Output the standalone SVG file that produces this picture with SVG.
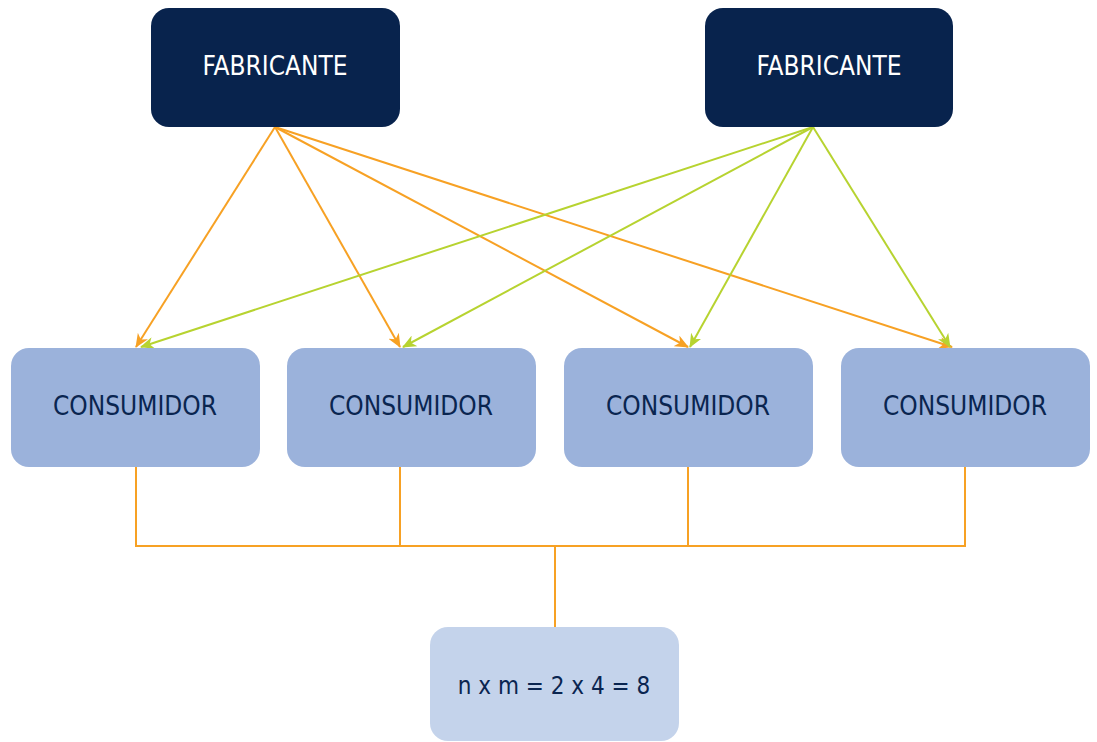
<svg xmlns="http://www.w3.org/2000/svg" width="1097" height="742" viewBox="0 0 1097 742">
<style>
.fab{fill:#08234D}
.con{fill:#9BB2DB}
.res{fill:#C4D3EB}
.t{font-family:"DejaVu Sans Condensed","DejaVu Sans",sans-serif;font-stretch:condensed;font-size:26px;text-anchor:middle;dominant-baseline:central}
.tw{fill:#FFFFFF}
.td{fill:#0A2550}
.o{stroke:#F7A124;stroke-width:2;fill:none}
.g{stroke:#B7D330;stroke-width:2;fill:none}
</style>
<defs>
<marker id="ao" viewBox="0 0 14 12" refX="13" refY="6" markerWidth="14" markerHeight="12" markerUnits="userSpaceOnUse" orient="auto">
<path d="M0,0 L14,6 L0,12 L4,6 Z" fill="#F7A124"/>
</marker>
<marker id="ag" viewBox="0 0 14 12" refX="13" refY="6" markerWidth="14" markerHeight="12" markerUnits="userSpaceOnUse" orient="auto">
<path d="M0,0 L14,6 L0,12 L4,6 Z" fill="#B7D330"/>
</marker>
</defs>
<g id="connectors">
<line class="o" x1="275" y1="127" x2="136" y2="347" marker-end="url(#ao)"/>
<line class="o" x1="275" y1="127" x2="400" y2="347" marker-end="url(#ao)"/>
<line class="o" x1="275" y1="127" x2="688" y2="347" marker-end="url(#ao)"/>
<line class="o" x1="275" y1="127" x2="952" y2="347" marker-end="url(#ao)"/>
<line class="g" x1="813" y1="127" x2="141" y2="347" marker-end="url(#ag)"/>
<line class="g" x1="813" y1="127" x2="403" y2="347" marker-end="url(#ag)"/>
<line class="g" x1="813" y1="127" x2="690" y2="347" marker-end="url(#ag)"/>
<line class="g" x1="813" y1="127" x2="950" y2="347" marker-end="url(#ag)"/>
<path class="o" d="M136,467 V546 M400,467 V546 M688,467 V546 M965,467 V546 M135,546 H966 M555,546 V627"/>
</g>
<g id="fabricante1"><rect class="fab" x="151" y="8" width="249" height="119" rx="18"/><text class="t tw" x="275" y="66">FABRICANTE</text></g>
<g id="fabricante2"><rect class="fab" x="705" y="8" width="248" height="119" rx="18"/><text class="t tw" x="829" y="66">FABRICANTE</text></g>
<g id="consumidor1"><rect class="con" x="11" y="348" width="249" height="119" rx="18"/><text class="t td" x="135" y="406">CONSUMIDOR</text></g>
<g id="consumidor2"><rect class="con" x="287" y="348" width="249" height="119" rx="18"/><text class="t td" x="411" y="406">CONSUMIDOR</text></g>
<g id="consumidor3"><rect class="con" x="564" y="348" width="249" height="119" rx="18"/><text class="t td" x="688" y="406">CONSUMIDOR</text></g>
<g id="consumidor4"><rect class="con" x="841" y="348" width="249" height="119" rx="18"/><text class="t td" x="965" y="406">CONSUMIDOR</text></g>
<g id="resultado"><rect class="res" x="430" y="627" width="249" height="114" rx="18"/><text class="t td" x="554" y="686" style="font-size:24px">n x m = 2 x 4 = 8</text></g>
</svg>
